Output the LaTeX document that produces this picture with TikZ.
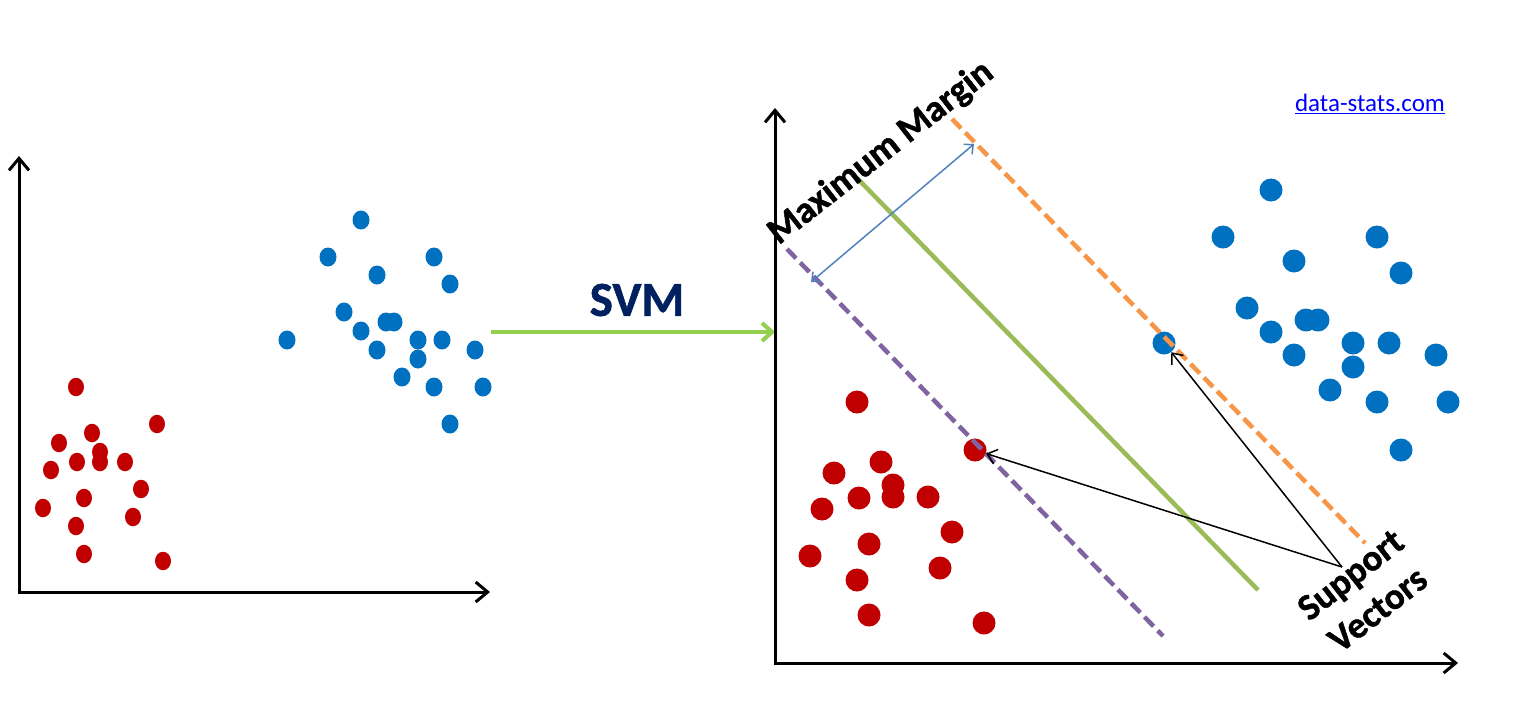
\documentclass[tikz,border=0pt]{standalone}
\usepackage{fontspec}
\setmainfont{Carlito}[BoldFeatures={FakeBold=1.2}]
\usetikzlibrary{arrows.meta,shapes.geometric}
\definecolor{reddot}{HTML}{C00000}
\definecolor{bluedot}{HTML}{0070C0}
\definecolor{svmgreen}{HTML}{92D050}
\definecolor{svmnavy}{HTML}{002060}
\definecolor{hypgreen}{HTML}{9BBB59}
\definecolor{margorange}{HTML}{F79646}
\definecolor{margpurple}{HTML}{8064A2}
\definecolor{margblue}{HTML}{4F81BD}
\definecolor{linkblue}{HTML}{0000FF}
\begin{document}
\begin{tikzpicture}[x=1pt,y=-1pt,
  axis/.style={line width=3pt,{Straight Barb[length=12pt,width=20pt]}-{Straight Barb[length=12pt,width=20pt]}},
  ldotr/.style={ellipse,fill=reddot,inner sep=0pt,minimum width=16pt,minimum height=18.5pt},
  ldotb/.style={ellipse,fill=bluedot,inner sep=0pt,minimum width=17pt,minimum height=19pt},
  rdotr/.style={circle,fill=reddot,inner sep=0pt,minimum size=23pt},
  rdotb/.style={circle,fill=bluedot,inner sep=0pt,minimum size=23pt},
  svmarrow/.style={draw=svmgreen,line width=4pt,-{Straight Barb[length=10pt,width=18pt]}},
  hypline/.style={draw=hypgreen,line width=4.5pt},
  margline/.style={line width=4.5pt,dash pattern=on 13pt off 6pt},
  margarrow/.style={draw=margblue,line width=1.5pt,{Straight Barb[length=7pt,width=13pt]}-{Straight Barb[length=7pt,width=13pt]}},
  svarrow/.style={draw=black,line width=1.5pt,-{Straight Barb[length=9pt,width=15pt]}},
  boldlabel/.style={font=\bfseries\fontsize{37}{44}\selectfont,text=black}
]
\useasboundingbox (0,0) rectangle (1535,716);
% ---------- left plot ----------
\coordinate (lytop) at (19,156);
\coordinate (lorig) at (19,592);
\coordinate (lxend) at (490,592);
\draw[axis] (lytop) -- (lorig) -- (lxend);
\foreach \n/\x/\y in {1/76/387,2/157/424,3/92/433,4/59/443,5/100/452,6/100/462,7/77/462,8/125/462,9/51/470,10/141/489,11/84/498,12/43/508,13/133/517,14/76/526,15/84/554,16/163/561}
  \node[ldotr] (lr\n) at (\x,\y) {};
\foreach \n/\x/\y in {1/361/220,2/328/257,3/434/257,4/377/275,5/450/284,6/344/312,7/386/322,8/394/322,9/361/331,10/287/340,11/418/340,12/442/340,13/377/350,14/418/359,15/475/350,16/402/377,17/434/387,18/483/387,19/450/424}
  \node[ldotb] (lb\n) at (\x,\y) {};
% ---------- SVM arrow ----------
\coordinate (svmstart) at (491,332);
\coordinate (svmend) at (775,332);
\draw[svmarrow] (svmstart) -- (svmend);
\node[font=\bfseries\fontsize{49}{55}\selectfont,text=svmnavy] (svm) at (637,300) {SVM};
% ---------- right plot ----------
\coordinate (rytop) at (775,108);
\coordinate (rorig) at (775,663);
\coordinate (rxend) at (1458,663);
\foreach \n/\x/\y in {1/857/402,3/881/462,4/834/473,5/893/485,6/893/497,7/859/498,8/928/497,9/822/509,10/952/532,11/869/544,12/810/556,13/940/568,14/857/580,15/869/615,16/984/623}
  \node[rdotr] (rr\n) at (\x,\y) {};
\node[rdotr] (rsv) at (975,450) {};
\foreach \n/\x/\y in {1/1271/190,2/1223/237,3/1377/237,4/1294/261,5/1401/273,6/1247/308,7/1306/320,8/1318/320,9/1271/332,11/1353/343,12/1389/343,13/1294/355,14/1436/355,15/1353/367,16/1330/390,17/1377/402,18/1448/402,19/1401/450}
  \node[rdotb] (rb\n) at (\x,\y) {};
\node[rdotb] (bsv) at (1164,343) {};
% hyperplanes
\coordinate (oa) at (952,119);
\coordinate (ob) at (1365,543);
\coordinate (ga) at (857,178);
\coordinate (gb) at (1258,590);
\coordinate (pa) at (787,249);
\coordinate (pb) at (1163,636);
\draw[margline,draw=margorange] (oa) -- (ob);
\draw[hypline] (ga) -- (gb);
\draw[margline,draw=margpurple] (pa) -- (pb);
\coordinate (ma) at (811,282);
\coordinate (mb) at (974,144);
\draw[margarrow] (ma) -- (mb);
\draw[axis] (rytop) -- (rorig) -- (rxend);
% labels
\node[boldlabel,rotate=38] (mm) at (881,153) {Maximum Margin};
\node[boldlabel,rotate=38,align=center] (sv) at (1364,592) {Support\\Vectors};
\coordinate (svtip) at (1342,567);
\draw[svarrow] (svtip) -- (rsv);
\draw[svarrow] (svtip) -- (bsv);
\node[font=\fontsize{25}{28}\selectfont,text=linkblue] (link) at (1370,104) {\underline{data-stats.com}};
\end{tikzpicture}
\end{document}
